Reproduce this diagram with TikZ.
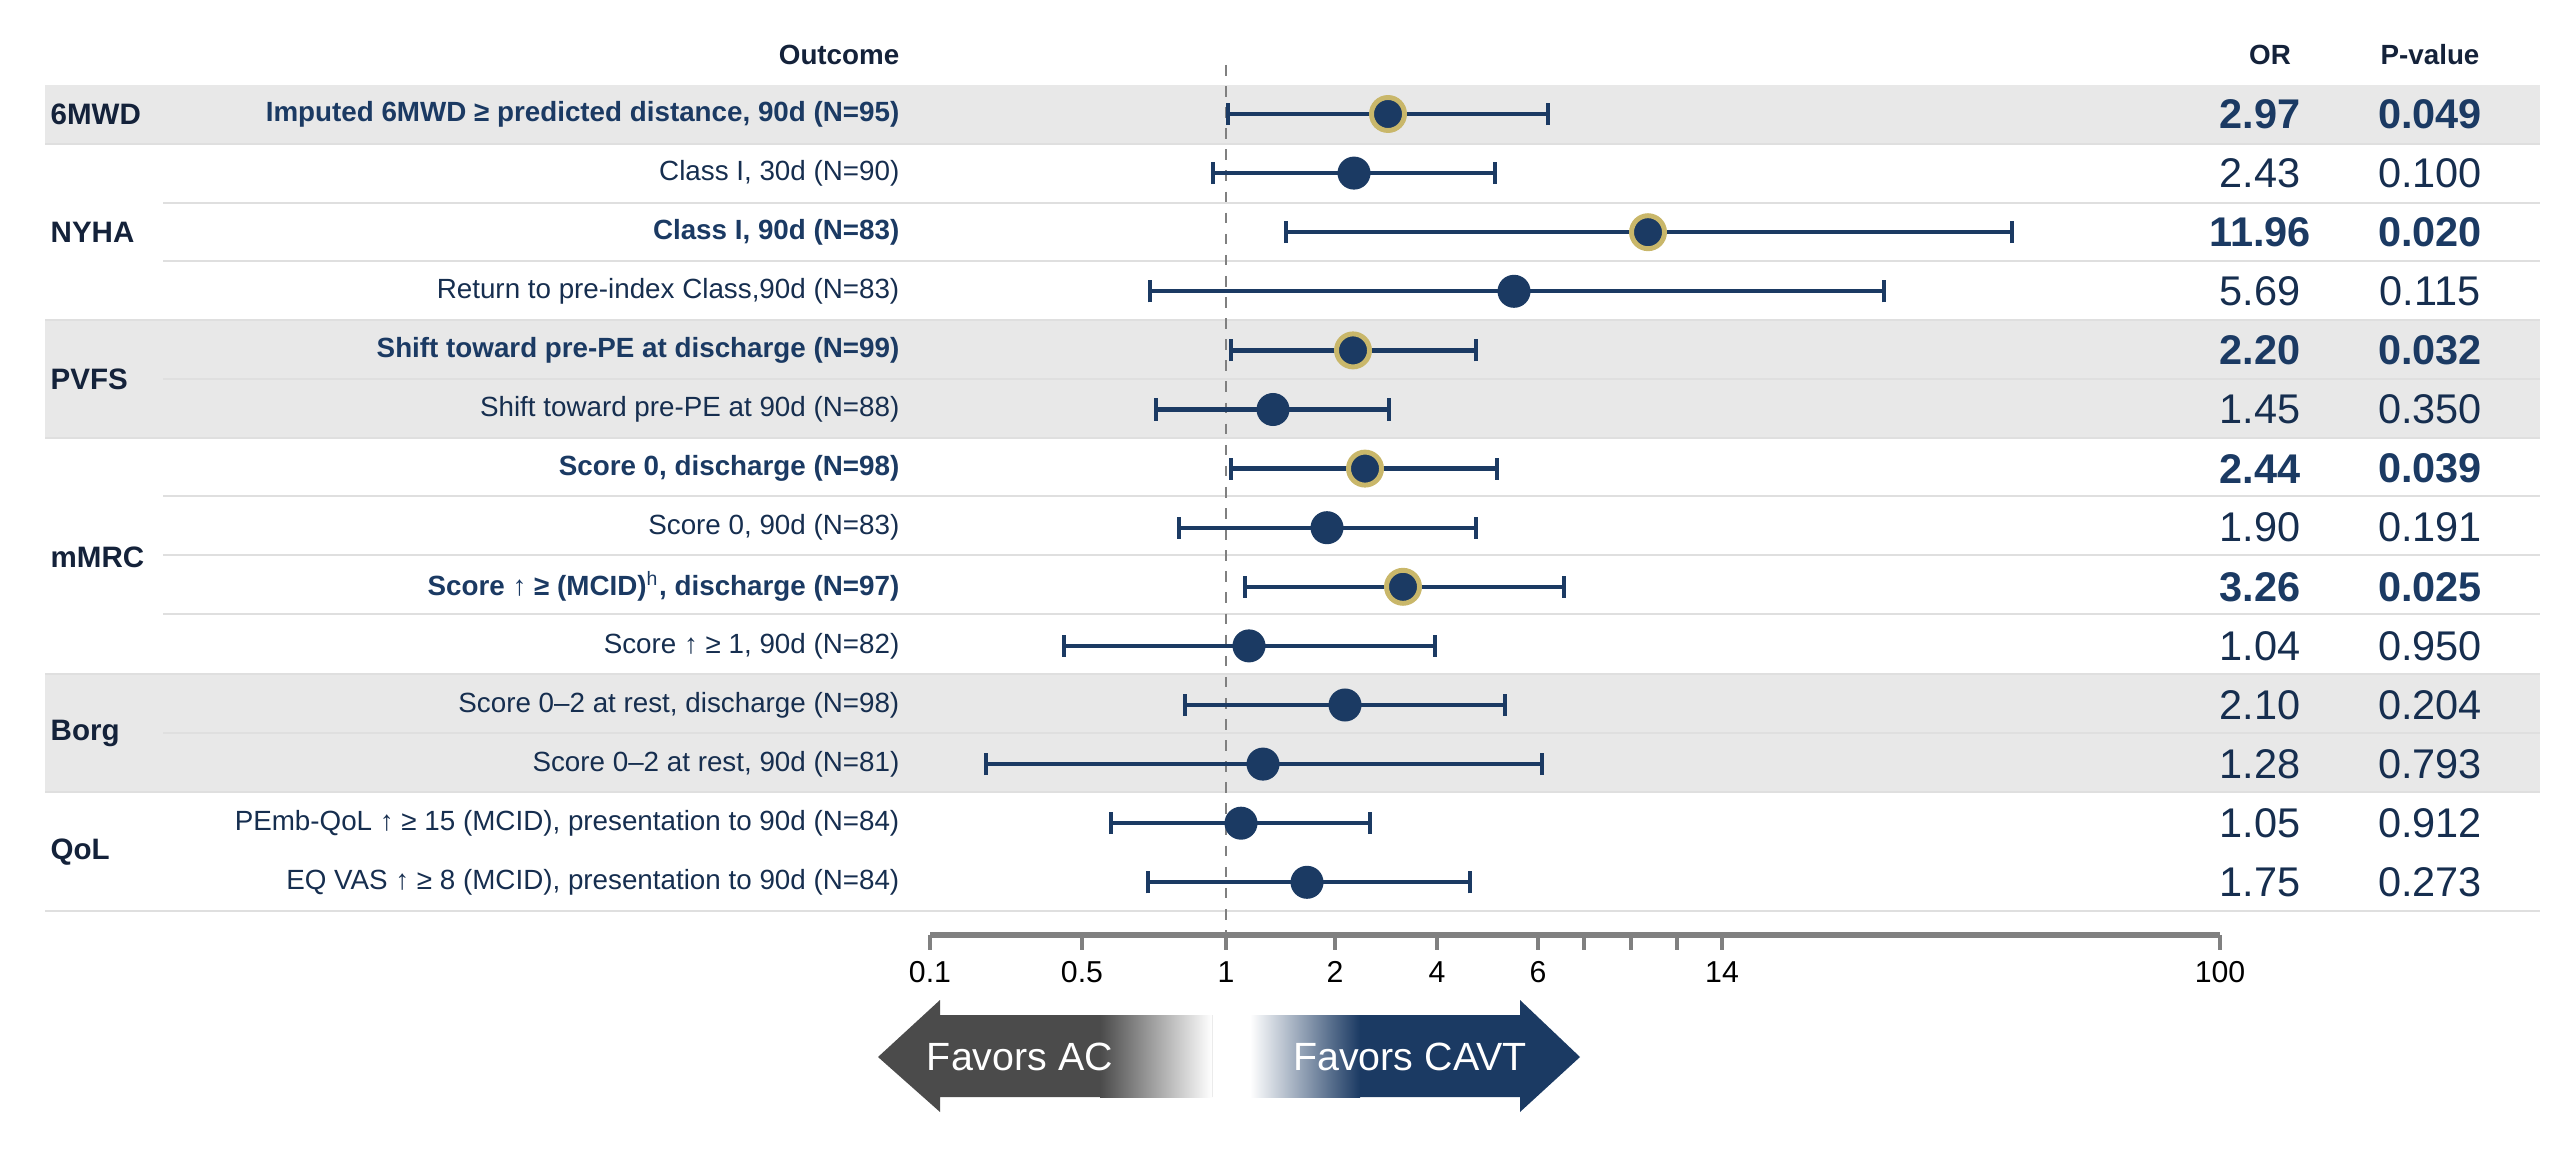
\documentclass[tikz,border=0pt]{standalone}
\usepackage{fontspec}
\setmainfont{Liberation Sans}
\definecolor{navy}{HTML}{1B3A63}
\definecolor{ink}{HTML}{14223A}
\definecolor{band}{HTML}{E8E8E8}
\definecolor{ring}{HTML}{C9B76A}
\definecolor{darkgr}{HTML}{4B4B4B}
\tikzset{
  lbl/.style={font=\fontsize{7.9}{9}\selectfont, anchor=east, inner sep=0pt},
  grp/.style={font=\bfseries\fontsize{8.4}{9}\selectfont, text=ink, anchor=west, inner sep=0pt},
  num/.style={font=\fontsize{11.8}{13}\selectfont, inner sep=0pt},
  hdr/.style={font=\bfseries\fontsize{7.9}{9}\selectfont, text=ink, inner sep=0pt},
  ci/.style={navy, line width=1.2pt},
  dot/.style={circle, fill=navy, minimum size=0.33cm, inner sep=0pt},
  tick/.style={gray, line width=1pt},
}
\begin{document}
\begin{tikzpicture}[x=0.01cm,y=-0.01cm]

	\useasboundingbox (0,0) rectangle (2560,1152);

	% shaded bands
	\fill[band] (45,85) rectangle (2540,144);
	\fill[band] (45,320) rectangle (2540,438);
	\fill[band] (45,674) rectangle (2540,792);

	% separators
	\foreach \yy in {203,261,379,496,555,614,733}
		\draw[gray!25, line width=0.6pt] (163,\yy) -- (2540,\yy);
	\foreach \yy in {144,320,438,674,792,911}
		\draw[gray!25, line width=0.6pt] (45,\yy) -- (2540,\yy);

	% header
	\node[hdr, anchor=east] (hout) at (900,55) {Outcome};
	\node[hdr] (hor) at (2270,55) {OR};
	\node[hdr] (hp) at (2430,55) {P-value};

	% groups
	\node[grp] (g1) at (50,114) {6MWD};
	\node[grp] (g2) at (50,232) {NYHA};
	\node[grp] (g3) at (50,379) {PVFS};
	\node[grp] (g4) at (50,557) {mMRC};
	\node[grp] (g5) at (50,733) {Borg};
	\node[grp] (g6) at (50,852) {QoL};

	% reference line
	\draw[gray, dashed, line width=0.7pt] (1226,65) -- (1226,935);

	% rows
	\foreach \r/\lo/\pt/\hi/\txt/\orv/\pv/\bb in {
		1/1228/1388/1548/{Imputed 6MWD ≥ predicted distance, 90d (N=95)}/2.97/0.049/1,
		2/1213/1354/1495/{Class I, 30d (N=90)}/2.43/0.100/0,
		3/1286/1648/2012/{Class I, 90d (N=83)}/11.96/0.020/1,
		4/1150/1514/1884/{Return to pre-index Class,90d (N=83)}/5.69/0.115/0,
		5/1231/1353/1476/{Shift toward pre-PE at discharge (N=99)}/2.20/0.032/1,
		6/1156/1273/1389/{Shift toward pre-PE at 90d (N=88)}/1.45/0.350/0,
		7/1231/1365/1497/{Score 0, discharge (N=98)}/2.44/0.039/1,
		8/1179/1327/1476/{Score 0, 90d (N=83)}/1.90/0.191/0,
		9/1245/1403/1564/{Score ↑ ≥ (MCID)\textsuperscript{\mdseries h}, discharge (N=97)}/3.26/0.025/1,
		10/1064/1249/1435/{Score ↑ ≥ 1, 90d (N=82)}/1.04/0.950/0,
		11/1185/1345/1505/{Score 0–2 at rest, discharge (N=98)}/2.10/0.204/0,
		12/986/1263/1542/{Score 0–2 at rest, 90d (N=81)}/1.28/0.793/0,
		13/1111/1241/1370/{PEmb-QoL ↑ ≥ 15 (MCID), presentation to 90d (N=84)}/1.05/0.912/0,
		14/1148/1307/1470/{EQ VAS ↑ ≥ 8 (MCID), presentation to 90d (N=84)}/1.75/0.273/0}
	{
		\pgfmathsetmacro{\yy}{114+(\r-1)*59.1}
		\coordinate (lo\r) at (\lo,\yy);
		\coordinate (hi\r) at (\hi,\yy);
		\draw[ci] (lo\r) -- (hi\r);
		\draw[ci] ([yshift=-0.11cm]lo\r) -- ([yshift=0.11cm]lo\r);
		\draw[ci] ([yshift=-0.11cm]hi\r) -- ([yshift=0.11cm]hi\r);
		\ifnum\bb=1
			\node[dot, draw=ring, line width=1.4pt] (pt\r) at (\pt,\yy) {};
			\node[lbl, text=navy, font=\bfseries\fontsize{7.9}{9}\selectfont] (t\r) at (900,\yy) {\txt};
			\node[num, text=navy, font=\bfseries\fontsize{11.8}{13}\selectfont] (or\r) at (2260,\yy) {\orv};
			\node[num, text=navy, font=\bfseries\fontsize{11.8}{13}\selectfont] (p\r) at (2430,\yy) {\pv};
		\else
			\node[dot] (pt\r) at (\pt,\yy) {};
			\node[lbl, text=navy!80!black] (t\r) at (900,\yy) {\txt};
			\node[num, text=navy!80!black] (or\r) at (2260,\yy) {\orv};
			\node[num, text=navy!80!black] (p\r) at (2430,\yy) {\pv};
		\fi
	}

	% axis
	\draw[gray, line width=1.6pt] (930,935) -- (2220,935);
	\foreach \xx/\lab in {930/0.1,1082/0.5,1226/1,1335/2,1437/4,1538/6,1584/,1631/,1677/,1722/14,2220/100}
	{
		\draw[tick] (\xx,935) -- (\xx,950);
		\node[num, font=\fontsize{8.6}{10}\selectfont] (ax\xx) at (\xx,972) {\lab};
	}

	% favours arrows
	\fill[darkgr] (1212,1015) -- (940,1015) -- (940,1000) -- (878,1057) -- (940,1112) -- (940,1097) -- (1212,1097) -- cycle;
	\shade[left color=darkgr, right color=white] (1100,1015) rectangle (1212,1097);
	\fill[navy] (1250,1015) -- (1520,1015) -- (1520,1000) -- (1580,1057) -- (1520,1112) -- (1520,1097) -- (1250,1097) -- cycle;
	\shade[left color=white, right color=navy] (1250,1015) rectangle (1360,1097);
	\node[font=\fontsize{11.2}{13}\selectfont, text=white, inner sep=0pt] (fac) at (1020,1057) {Favors AC};
	\node[font=\fontsize{11.2}{13}\selectfont, text=white, inner sep=0pt] (fcavt) at (1410,1057) {Favors CAVT};

\end{tikzpicture}
\end{document}
